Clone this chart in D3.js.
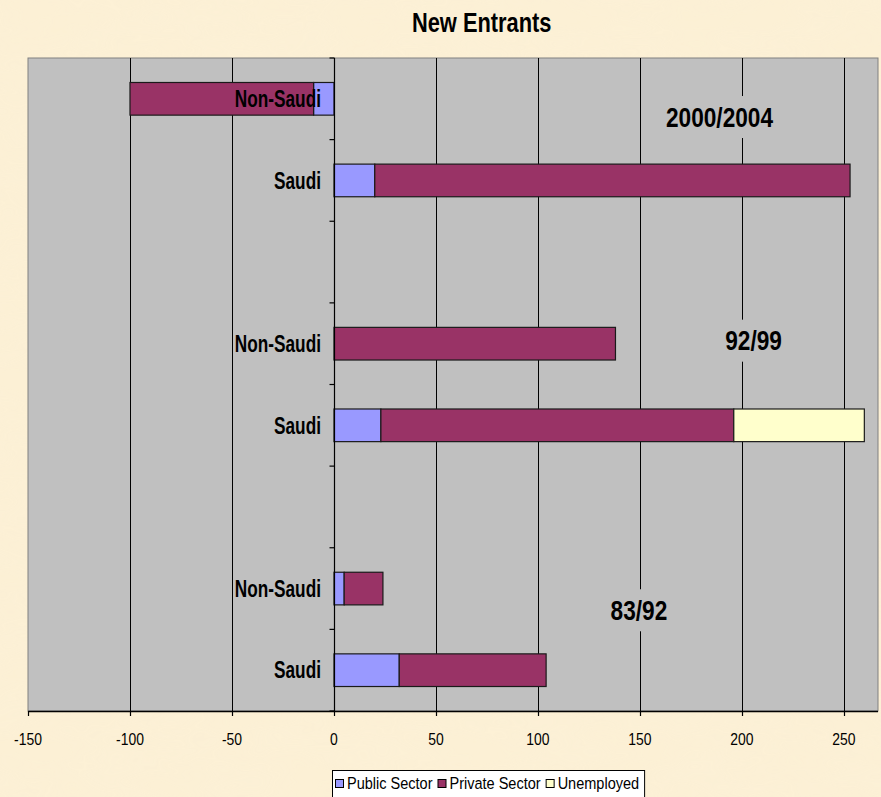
<!DOCTYPE html>
<html>
<head>
<meta charset="utf-8">
<script src="https://cdn.jsdelivr.net/npm/d3@7"></script>
<style>
  html, body { margin: 0; padding: 0; background: #FBEFD3; }
  svg { display: block; }
  text { font-family: "Liberation Sans", Arial, sans-serif; fill: #000; }
</style>
</head>
<body>
<div id="chart"></div>
<script>
// ---------- data (bottom to top, as in the chart) ----------
const rowIds      = ["s83", "n83", "g1", "s92", "n92", "g2", "s04", "n04"];
const rowLabels   = ["Saudi", "Non-Saudi", "", "Saudi", "Non-Saudi", "", "Saudi", "Non-Saudi"];
const publicSector  = [32, 5, 0, 23, 0, 0, 20, -10];
const privateSector = [72, 19, 0, 173, 138, 0, 233, -90];
const unemployed    = [0, 0, 0, 64, 0, 0, 0, 0];
const seriesNames = ["Public Sector", "Private Sector", "Unemployed"];
const seriesKeys  = ["public", "private", "unemployed"];
const seriesColors = ["#9999FF", "#993366", "#FFFFCC"];
const xTicks = [-150, -100, -50, 0, 50, 100, 150, 200, 250];
const periodLabels = ["83/92", "92/99", "2000/2004"];
const periodValue  = [149.5, 205.7, 189];   // x position in data units
const periodRow    = [1.234, 4.537, 7.277]; // y position in row units (0 = bottom)
const title = "New Entrants";

// ---------- layout ----------
const W = 881, H = 797;
const plot = { left: 28, right: 878, top: 58, bottom: 711 };

const svg = d3.select("#chart").append("svg").attr("width", W).attr("height", H);

// parchment background with subtle texture
const defs = svg.append("defs");
const f = defs.append("filter").attr("id", "tex").attr("x", 0).attr("y", 0).attr("width", "100%").attr("height", "100%");
f.append("feTurbulence").attr("type", "fractalNoise").attr("baseFrequency", "0.012 0.03").attr("numOctaves", 3).attr("seed", 4).attr("result", "n");
f.append("feColorMatrix").attr("in", "n").attr("type", "matrix")
  .attr("values", "0 0 0 0 0.96  0 0 0 0 0.88  0 0 0 0 0.72  0 0 0 0.35 -0.08");
svg.append("rect").attr("width", W).attr("height", H).attr("fill", "#FCF0D5");
svg.append("rect").attr("width", W).attr("height", H).attr("filter", "url(#tex)").attr("opacity", 0.6);

const x = d3.scaleLinear().domain([-150, 266.7]).range([plot.left, plot.right]);
const y = d3.scaleBand().domain(rowIds.slice().reverse()).range([plot.top, plot.bottom])
  .paddingInner(0.6).paddingOuter(0.3);
const yRow = d3.scaleLinear().domain([0, rowIds.length]).range([plot.bottom, plot.top]);

// plot area
svg.append("rect").attr("x", plot.left).attr("y", plot.top)
  .attr("width", plot.right - plot.left).attr("height", plot.bottom - plot.top)
  .attr("fill", "#C0C0C0").attr("stroke", "#808080").attr("stroke-width", 1);

// gridlines
svg.append("g").selectAll("line").data(xTicks.filter(t => t !== -150 && t !== 0)).join("line")
  .attr("x1", d => Math.round(x(d)) + 0.5).attr("x2", d => Math.round(x(d)) + 0.5)
  .attr("y1", plot.top).attr("y2", plot.bottom)
  .attr("stroke", "#000").attr("stroke-width", 1);

// period label boxes (hide gridlines behind them) and texts
const pg = svg.append("g");
periodLabels.forEach((lab, i) => {
  const cx = x(periodValue[i]), cy = yRow(periodRow[i]);
  const t = pg.append("text")
    .attr("transform", `translate(${cx},${cy + 9.7}) scale(0.84,1)`)
    .attr("text-anchor", "middle").attr("font-size", 27).attr("font-weight", "bold")
    .text(lab);
  const w = t.node().getComputedTextLength() * 0.84;
  pg.insert("rect", "text").attr("x", cx - w / 2 - 6).attr("y", cy - 21)
    .attr("width", w + 12).attr("height", 42).attr("fill", "#C0C0C0");
});

// stacked bars
const rows = rowIds.map((id, i) => ({ id, public: publicSector[i], private: privateSector[i], unemployed: unemployed[i] }));
const stack = d3.stack().keys(seriesKeys).offset(d3.stackOffsetDiverging)(rows);
svg.append("g").selectAll("g").data(stack).join("g")
  .attr("fill", (d, i) => seriesColors[i])
  .selectAll("rect").data(d => d.filter(s => s[1] !== s[0])).join("rect")
  .attr("x", d => x(Math.min(d[0], d[1])))
  .attr("width", d => Math.abs(x(d[1]) - x(d[0])))
  .attr("y", d => y(d.data.id))
  .attr("height", y.bandwidth())
  .attr("stroke", "#1a1a1a").attr("stroke-width", 1.2);

// y axis (at value 0)
const x0 = Math.round(x(0)) + 0.5;
const ya = svg.append("g");
ya.append("line").attr("x1", x0).attr("x2", x0).attr("y1", plot.top).attr("y2", plot.bottom)
  .attr("stroke", "#000").attr("stroke-width", 1.2);
ya.selectAll("line.tick").data(d3.range(0, rowIds.length + 1)).join("line").attr("class", "tick")
  .attr("x1", x0 - 5).attr("x2", x0).attr("y1", d => yRow(d)).attr("y2", d => yRow(d))
  .attr("stroke", "#000").attr("stroke-width", 1.2);

// category labels
svg.append("g").selectAll("text").data(rowIds.map((id, i) => ({ id, label: rowLabels[i] })).filter(d => d.label))
  .join("text")
  .attr("transform", d => `translate(${x(0) - 13},${y(d.id) + y.bandwidth() / 2 + 8.3}) scale(0.75,1)`)
  .attr("text-anchor", "end").attr("font-size", 23).attr("font-weight", "bold")
  .text(d => d.label);

// x axis
const xa = svg.append("g");
xa.append("line").attr("x1", plot.left).attr("x2", plot.right).attr("y1", plot.bottom + 0.5).attr("y2", plot.bottom + 0.5)
  .attr("stroke", "#000").attr("stroke-width", 1.5);
xa.selectAll("line.tick").data(xTicks).join("line").attr("class", "tick")
  .attr("x1", d => Math.round(x(d)) + 0.5).attr("x2", d => Math.round(x(d)) + 0.5)
  .attr("y1", plot.bottom).attr("y2", plot.bottom + 5)
  .attr("stroke", "#000").attr("stroke-width", 1.2);
xa.selectAll("text").data(xTicks).join("text")
  .attr("transform", d => `translate(${x(d)},744.5) scale(0.87,1)`)
  .attr("text-anchor", "middle").attr("font-size", 16)
  .text(d => d);

// title
svg.append("text").attr("transform", "translate(481.7,31.7) scale(0.78,1)")
  .attr("text-anchor", "middle").attr("font-size", 28).attr("font-weight", "bold").text(title);

// legend
const lg = svg.append("g");
const lgBox = lg.append("rect").attr("fill", "#fff").attr("stroke", "#000").attr("stroke-width", 1);
let lx = 335;
const lBase = 789;
const lScale = 0.88;
seriesNames.forEach((name, i) => {
  lg.append("rect").attr("x", lx + 0.5).attr("y", lBase - 9.5).attr("width", 8).attr("height", 8)
    .attr("fill", seriesColors[i]).attr("stroke", "#000").attr("stroke-width", 1);
  const t = lg.append("text").attr("transform", `translate(${lx + 12},${lBase}) scale(${lScale},1)`)
    .attr("font-size", 16.5).text(name);
  lx += 12 + t.node().getComputedTextLength() * lScale + 5;
});
lgBox.attr("x", 332.5).attr("y", 770.5).attr("width", lx - 333 + 1).attr("height", 30);
</script>
</body>
</html>
